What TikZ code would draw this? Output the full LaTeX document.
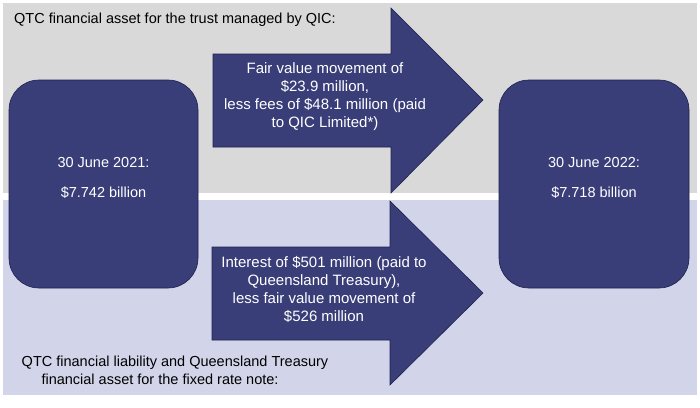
\documentclass[tikz,border=0pt]{standalone}
\usepackage{fontspec}
\setmainfont{Liberation Sans}
\definecolor{navy}{RGB}{58,62,120}
\definecolor{navyedge}{RGB}{30,33,80}
\definecolor{bandgray}{RGB}{217,217,217}
\definecolor{bandlav}{RGB}{210,213,233}
\begin{document}
\begin{tikzpicture}[x=1pt,y=-1pt,
  datebox/.style={fill=navy,draw=navyedge,line width=0.6pt,rounded corners=30pt},
  flowarrow/.style={fill=navy,draw=navyedge,line width=0.6pt},
  whitetxt/.style={text=white,font=\fontsize{15}{18}\selectfont,align=center,inner sep=0pt},
  boxtxt/.style={text=white,font=\fontsize{14.5}{18}\selectfont,align=center,inner sep=0pt},
  titletxt/.style={text=black,font=\fontsize{14.5}{18}\selectfont,inner sep=0pt}]
\useasboundingbox (0,0) rectangle (700,407);
\fill[white] (0,0) rectangle (700,407);
% bands
\fill[bandgray] (3,3) rectangle (697,193);
\fill[bandlav] (3,200) rectangle (697,395);
% arrows
\draw[flowarrow] (213,54) -- (391,54) -- (391,8) -- (483,100) -- (391,193) -- (391,147) -- (213,147) -- cycle;
\draw[flowarrow] (212,247) -- (390,247) -- (390,201) -- (483,293) -- (390,385) -- (390,340) -- (212,340) -- cycle;
% boxes
\draw[datebox] (9,80) rectangle (198,288);
\draw[datebox] (499,80) rectangle (689,288);
% texts
\node[titletxt,anchor=base west] (t1) at (14,23) {QTC financial asset for the trust managed by QIC:};
\node[titletxt,anchor=base,align=center] (t2) at (175,384) {QTC financial liability and Queensland Treasury\\ \hspace*{-30pt}financial asset for the fixed rate note:};
\node[boxtxt] (b1) at (103.5,178) {30 June 2021:\\[12pt]\$7.742 billion};
\node[boxtxt] (b2) at (594,178) {30 June 2022:\\[12pt]\$7.718 billion};
\node[whitetxt] (a1) at (325,97) {Fair value movement of\\\$23.9 million,\\less fees of \$48.1 million (paid\\to QIC Limited*)};
\node[whitetxt] (a2) at (324,289) {Interest of \$501 million (paid to\\Queensland Treasury),\\less fair value movement of\\\$526 million};
\end{tikzpicture}
\end{document}
